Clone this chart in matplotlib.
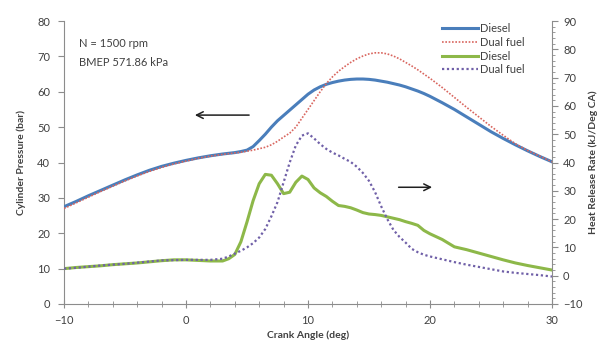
import matplotlib
matplotlib.use("Agg")
import matplotlib.pyplot as plt
from matplotlib.ticker import MultipleLocator

plt.rcParams['font.family'] = ['Lato', 'DejaVu Sans']

crank_angle = [-10, -9, -8, -7, -6, -5, -4, -3, -2, -1, 0, 1, 2, 3,
               3.5, 4, 4.5, 5, 5.5, 6, 6.5, 7, 7.5, 8, 8.5, 9, 9.5, 10, 10.5,
               11, 11.5, 12, 12.5, 13, 13.5, 14, 14.5, 15, 15.5, 16, 16.5, 17,
               17.5, 18, 18.5, 19, 19.5, 20, 21, 22, 23, 24, 25, 26, 27, 28, 29, 30]

pressure_diesel = [27.5, 29.0, 30.6, 32.1, 33.6, 35.1, 36.5, 37.8, 38.9, 39.8, 40.6, 41.3, 41.9, 42.4,
                   42.6, 42.8, 43.1, 43.5, 44.5, 46.2, 48.0, 50.0, 51.8, 53.3, 54.8, 56.3, 57.8, 59.3, 60.5,
                   61.4, 62.1, 62.6, 63.0, 63.3, 63.5, 63.6, 63.6, 63.5, 63.3, 63.0, 62.7, 62.3,
                   61.9, 61.4, 60.8, 60.2, 59.5, 58.7, 56.9, 55.0, 52.9, 50.8, 48.7, 46.8, 45.0, 43.3, 41.7, 40.2]

pressure_dual = [27.0, 28.6, 30.2, 31.8, 33.3, 34.8, 36.2, 37.5, 38.6, 39.6, 40.4, 41.2, 41.8, 42.3,
                 42.5, 42.7, 42.9, 43.2, 43.5, 43.9, 44.3, 45.0, 46.0, 47.2, 48.3, 50.0, 52.5, 55.0, 57.5,
                 60.0, 62.3, 64.2, 65.8, 67.1, 68.3, 69.3, 70.1, 70.7, 71.0, 71.0, 70.7, 70.1,
                 69.3, 68.3, 67.3, 66.2, 65.0, 63.8, 61.2, 58.4, 55.6, 52.9, 50.2, 47.7, 45.3, 43.4, 41.8, 40.2]

hrr_diesel = [2.5, 2.9, 3.2, 3.5, 3.9, 4.2, 4.5, 4.9, 5.3, 5.6, 5.6, 5.4, 5.2, 5.2,
              6.0, 7.5, 12.0, 19.0, 26.5, 32.5, 35.8, 35.5, 32.5, 29.0, 29.5, 33.0, 35.2, 34.0, 31.0,
              29.3, 28.0, 26.3, 24.8, 24.5, 24.0, 23.2, 22.3, 21.8, 21.6, 21.3, 20.8, 20.3,
              19.8, 19.1, 18.5, 17.8, 16.0, 14.8, 12.8, 10.2, 9.2, 8.0, 6.8, 5.6, 4.5, 3.6, 2.8, 2.0]

hrr_dual = [2.5, 2.8, 3.2, 3.6, 3.9, 4.2, 4.6, 5.0, 5.4, 5.5, 5.6, 5.6, 5.6, 6.0,
            6.8, 7.8, 8.8, 10.0, 11.5, 13.5, 16.5, 21.0, 26.0, 33.0, 40.0, 46.0, 49.5, 50.3, 48.5,
            46.5, 44.8, 43.5, 42.5, 41.3, 40.2, 38.5, 36.3, 33.5, 29.5, 24.5, 20.0, 16.2,
            13.7, 11.7, 9.5, 8.3, 7.4, 6.8, 5.8, 4.8, 3.9, 3.1, 2.3, 1.5, 1.0, 0.6, 0.2, -0.3]

legend_labels = ['Diesel', 'Dual fuel', 'Diesel', 'Dual fuel']

c_blue = '#4a7ebb'
c_red = '#d9665f'
c_green = '#8db849'
c_purple = '#7060a8'
gray = '#8c8c8c'
txt = '#404040'

fig = plt.figure(figsize=(6.01, 3.43), dpi=100)
ax = fig.add_axes([64/601, 1-304/343, (552-64)/601, (304-21)/343])
ax2 = ax.twinx()

l1, = ax.plot(crank_angle, pressure_diesel, color=c_blue, lw=2.2, zorder=3)
l2, = ax.plot(crank_angle, pressure_dual, color=c_red, lw=1.2, ls=(0, (1, 1)), zorder=3)
l3, = ax2.plot(crank_angle, hrr_diesel, color=c_green, lw=2.2)
l4, = ax2.plot(crank_angle, hrr_dual, color=c_purple, lw=1.6, ls=(0, (1, 1.2)))

ax.set_xlim(-10, 30)
ax.set_ylim(0, 80)
ax2.set_ylim(-10, 90)
ax.xaxis.set_major_locator(MultipleLocator(10))
ax.xaxis.set_minor_locator(MultipleLocator(2))
ax.yaxis.set_major_locator(MultipleLocator(10))
ax2.yaxis.set_major_locator(MultipleLocator(10))
ax2.yaxis.set_minor_locator(MultipleLocator(2))

for a in (ax, ax2):
    for s in a.spines.values():
        s.set_color(gray)
        s.set_linewidth(0.8)
    a.spines['top'].set_visible(False)
ax.spines['right'].set_visible(False)
ax2.spines['left'].set_visible(False)
ax2.spines['bottom'].set_visible(False)

ax.tick_params(axis='x', which='major', direction='inout', length=6, color=gray, labelsize=8, labelcolor=txt, pad=5)
ax.tick_params(axis='x', which='minor', direction='inout', length=4, color=gray)
ax.tick_params(axis='y', which='major', direction='out', length=4, color=gray, labelsize=8, labelcolor=txt, pad=6)
ax2.tick_params(axis='y', which='major', direction='out', length=4, color=gray, labelsize=8, labelcolor=txt, pad=4)
ax2.tick_params(axis='y', which='minor', direction='out', length=2, color=gray)

ax.set_xlabel('Crank Angle (deg)', fontsize=7.5, fontweight='bold', color=txt, labelpad=3)
ax.set_ylabel('Cylinder Pressure (bar)', fontsize=7.5, fontweight='bold', color=txt, labelpad=8)
ax2.set_ylabel('Heat Release Rate (kJ/Deg CA)', fontsize=7.5, fontweight='bold', color=txt, labelpad=4)

ax.text(-8.8, 73.5, 'N = 1500 rpm', fontsize=8, color=txt, va='center')
ax.text(-8.8, 68.3, 'BMEP 571.86 kPa', fontsize=8, color=txt, va='center')

ax.annotate('', xy=(0.5, 53.4), xytext=(5.4, 53.4),
            arrowprops=dict(arrowstyle='->', color='#202020', lw=1.1, mutation_scale=12))
ax.annotate('', xy=(20.4, 33.0), xytext=(17.2, 33.0),
            arrowprops=dict(arrowstyle='->', color='#202020', lw=1.1, mutation_scale=12))

leg = ax2.legend([l1, l2, l3, l4], legend_labels, loc='upper left',
                 bbox_to_anchor=(442/601, 1-23/343), bbox_transform=fig.transFigure,
                 frameon=False, fontsize=8, handlelength=3.2, handletextpad=0.2,
                 labelspacing=0.25, borderpad=0, borderaxespad=0)
for t in leg.get_texts():
    t.set_color(txt)

fig.savefig('out.png', dpi=100)
